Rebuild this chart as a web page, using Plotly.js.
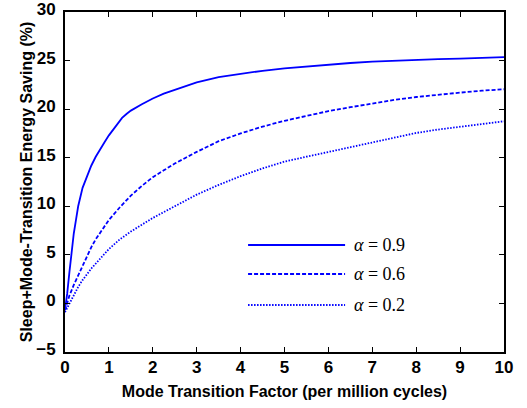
<!DOCTYPE html>
<html>
<head>
<meta charset="utf-8">
<script src="https://cdn.plot.ly/plotly-3.0.1.min.js"></script>
<style>html,body{margin:0;padding:0;background:#fff;}#chart{width:527px;height:408px;}</style>
</head>
<body>
<div id="chart"></div>
<script>
// Mode transition factor (per million cycles)
var xSolid = [0, 0.05, 0.1, 0.15, 0.2, 0.25, 0.3, 0.4, 0.5, 0.6, 0.7, 0.8, 0.9, 1.0, 1.1, 1.2, 1.3, 1.4, 1.5, 1.75, 2.0, 2.25, 2.5, 2.75, 3.0, 3.5, 4.0, 4.5, 5.0, 5.5, 6.0, 6.5, 7.0, 7.5, 8.0, 8.5, 9.0, 9.5, 10.0];
var ySolid = [-0.6, 1.0, 3.2, 5.5, 7.2, 8.6, 10.0, 11.9, 13.1, 14.2, 15.1, 15.9, 16.6, 17.3, 17.9, 18.6, 19.1, 19.5, 19.85, 20.5, 21.1, 21.6, 22.0, 22.4, 22.75, 23.3, 23.65, 23.95, 24.2, 24.4, 24.6, 24.75, 24.9, 25.0, 25.1, 25.15, 25.2, 25.3, 25.35];

var xDash = [0, 0.1, 0.2, 0.3, 0.4, 0.5, 0.6, 0.7, 0.8, 0.9, 1.0, 1.25, 1.5, 1.75, 2.0, 2.25, 2.5, 2.75, 3.0, 3.5, 4.0, 4.5, 5.0, 5.5, 6.0, 6.5, 7.0, 7.5, 8.0, 8.5, 9.0, 9.5, 10.0];
var yDash = [-0.7, 0.8, 1.9, 2.9, 3.9, 4.9, 5.8, 6.6, 7.3, 8.0, 8.6, 9.9, 11.1, 12.1, 13.0, 13.7, 14.4, 15.0, 15.6, 16.7, 17.5, 18.2, 18.8, 19.3, 19.8, 20.2, 20.6, 20.95, 21.25, 21.5, 21.7, 21.9, 22.05];

var xDot = [0, 0.1, 0.2, 0.3, 0.4, 0.5, 0.6, 0.8, 1.0, 1.25, 1.5, 1.75, 2.0, 2.5, 3.0, 3.5, 4.0, 4.5, 5.0, 5.5, 6.0, 6.5, 7.0, 7.5, 8.0, 8.5, 9.0, 9.5, 10.0];
var yDot = [-0.9, 0.0, 0.9, 1.7, 2.4, 3.0, 3.6, 4.6, 5.6, 6.6, 7.4, 8.1, 8.8, 10.0, 11.2, 12.2, 13.1, 13.9, 14.6, 15.1, 15.6, 16.1, 16.6, 17.1, 17.55, 17.9, 18.2, 18.5, 18.75];

var seriesNames = ['\u03b1 = 0.9', '\u03b1 = 0.6', '\u03b1 = 0.2'];
var legendLabels = ['<i>\u03b1</i> = 0.9', '<i>\u03b1</i> = 0.6', '<i>\u03b1</i> = 0.2'];
var xTickVals = [0, 1, 2, 3, 4, 5, 6, 7, 8, 9, 10];
var yTickVals = [-5, 0, 5, 10, 15, 20, 25, 30];

var blue = '#0000ff';
var dashes = ['solid', '4px,2px', '1.5px,1.5px'];
var lw = 1.8;

var traces = [
  {x: xSolid, y: ySolid, name: seriesNames[0], mode: 'lines', line: {color: blue, width: lw, dash: dashes[0]}, showlegend: false},
  {x: xDash, y: yDash, name: seriesNames[1], mode: 'lines', line: {color: blue, width: lw, dash: dashes[1]}, showlegend: false},
  {x: xDot, y: yDot, name: seriesNames[2], mode: 'lines', line: {color: blue, width: lw, dash: dashes[2]}, showlegend: false}
];

var tickFont = {family: 'Liberation Sans, Arial, sans-serif', size: 17, color: '#000', weight: 700};
var titleFont = {family: 'Liberation Sans, Arial, sans-serif', size: 16, color: '#000', weight: 700};

// legend drawn in paper coordinates (plot area: y 12..352)
var legY = [0.3147, 0.2294, 0.1382];
var shapes = [], annotations = [];
for (var i = 0; i < 3; i++) {
  shapes.push({type: 'line', xref: 'paper', yref: 'paper', x0: 0.417, x1: 0.638, y0: legY[i], y1: legY[i],
    line: {color: blue, width: lw, dash: dashes[i]}});
  annotations.push({xref: 'paper', yref: 'paper', x: 0.654, y: legY[i], xanchor: 'left', yanchor: 'middle',
    showarrow: false, text: legendLabels[i], font: {family: 'Liberation Serif, Times New Roman, serif', size: 18, color: '#000'}});
}

var layout = {
  width: 527, height: 408,
  margin: {l: 65, r: 23, t: 12, b: 56},
  paper_bgcolor: '#fff', plot_bgcolor: '#fff',
  showlegend: false,
  xaxis: {
    range: [0, 10], tickvals: xTickVals, ticks: 'inside', ticklen: 5, tickwidth: 1, tickcolor: '#000',
    showline: true, linecolor: '#000', linewidth: 2, mirror: 'ticks', showgrid: false, zeroline: false,
    tickfont: tickFont, ticklabelstandoff: -1, ticklabeloverflow: 'allow',
    title: {text: 'Mode Transition Factor (per million cycles)', font: titleFont, standoff: 9}
  },
  yaxis: {
    range: [-5, 30], tickvals: yTickVals, ticks: 'inside', ticklen: 5, tickwidth: 1, tickcolor: '#000',
    showline: true, linecolor: '#000', linewidth: 2, mirror: 'ticks', showgrid: false, zeroline: false,
    tickfont: tickFont, ticklabelstandoff: 4, ticklabelshift: -3, ticklabeloverflow: 'allow',
    title: {text: 'Sleep+Mode-Transition Energy Saving (%)', font: titleFont, standoff: 0}
  },
  shapes: shapes,
  annotations: annotations
};

Plotly.newPlot('chart', traces, layout, {displayModeBar: false, staticPlot: true});
</script>
</body>
</html>
